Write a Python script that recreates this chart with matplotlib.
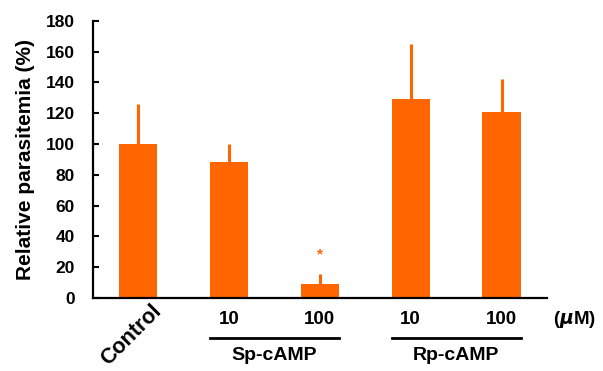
import matplotlib.pyplot as plt

plt.rcParams['font.family'] = ['Liberation Sans', 'DejaVu Sans']
plt.rcParams['font.weight'] = 'bold'

# data
groups = ['Control', 'Sp 10', 'Sp 100', 'Rp 10', 'Rp 100']
values = [100, 88, 9, 129, 121]
errors = [26, 12, 6.5, 36, 21]
dose_labels = ['', '10', '100', '10', '100']
compounds = ['Sp-cAMP', 'Rp-cAMP']
star_idx = 2

orange = '#FF6600'
fig = plt.figure(figsize=(6.03, 3.71), dpi=100)
ax = fig.add_axes([0.154, 0.197, 0.753, 0.747])

x = list(range(len(groups)))
ax.bar(x, values, width=0.42, color=orange, zorder=2)
ax.errorbar(x, values, yerr=[[0]*len(errors), errors], fmt='none',
            ecolor=orange, elinewidth=2.2, capsize=0, zorder=1)
ax.text(star_idx, values[star_idx] + errors[star_idx] + 13, '*', color=orange,
        ha='center', va='center', fontsize=11)

ax.set_xlim(-0.5, 4.5)
ax.set_ylim(0, 180)
ax.set_yticks(range(0, 181, 20))
ax.set_xticks([])
ax.tick_params(axis='y', direction='in', length=4, width=1.5, labelsize=12.5, pad=13)
for s in ['top', 'right']:
    ax.spines[s].set_visible(False)
for s in ['left', 'bottom']:
    ax.spines[s].set_linewidth(1.6)
ax.set_ylabel('Relative parasitemia (%)', fontsize=15, fontweight='bold', labelpad=8)

# x labels under the axis
trans = ax.get_xaxis_transform()
ax.text(0.14, -0.01, 'Control', rotation=45, ha='right', va='top',
        fontsize=15.5, transform=trans, rotation_mode='anchor')
for i, lab in enumerate(dose_labels):
    if lab:
        ax.text(i, -0.078, lab, ha='center', va='center', fontsize=13.5, transform=trans)
ax.text(4.57, -0.078, '($\\mu$M)', ha='left', va='center', fontsize=13.5, transform=trans)
for k, name in enumerate(compounds):
    a, b = 1 + 2*k, 2 + 2*k
    ax.plot([a - 0.21, b + 0.21], [-0.143, -0.143], color='black', lw=2,
            transform=trans, clip_on=False)
    ax.text((a + b) / 2, -0.208, name, ha='center', va='center', fontsize=14,
            transform=trans)

fig.savefig('out.png', dpi=100)
